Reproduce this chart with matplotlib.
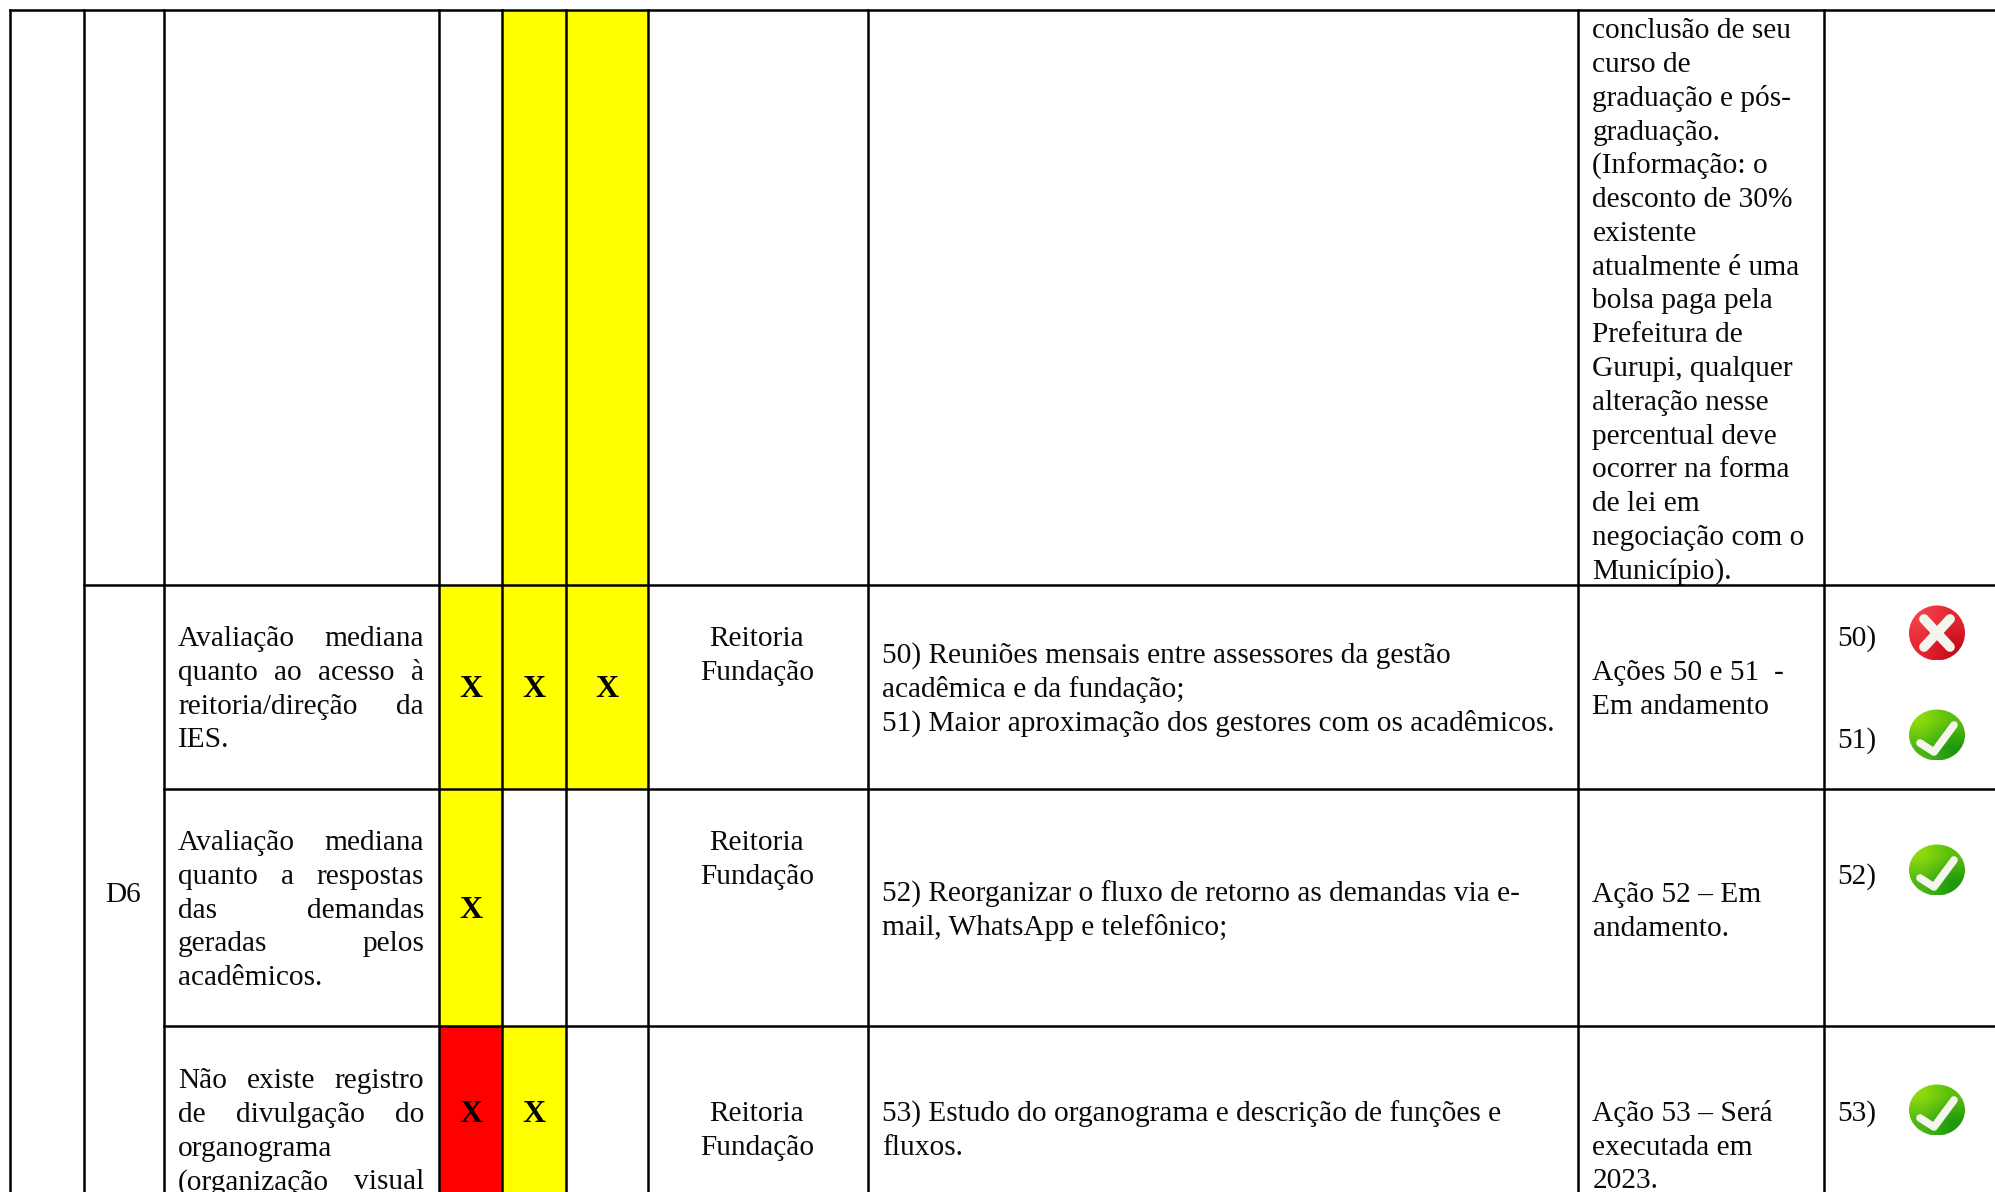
import numpy as np
import matplotlib
matplotlib.use('Agg')
import matplotlib.pyplot as plt
from matplotlib.patches import Ellipse, Rectangle

plt.rcParams['font.family'] = ['Liberation Serif', 'DejaVu Serif']

W, H = 1995, 1192
FS = 21.2
FS_X = 23
LINE = 33.75
LW = 1.8
INK = '#0a0a0a'

# table geometry in image pixels
col_edges = [9.5, 84, 164, 439, 502, 566, 648, 868, 1578, 1824]
row_edges = [10, 585, 789, 1026, 1192]

# fills: (row, col, colour)
fills = [(0, 4, '#ffff00'), (0, 5, '#ffff00'),
         (1, 3, '#ffff00'), (1, 4, '#ffff00'), (1, 5, '#ffff00'),
         (2, 3, '#ffff00'),
         (3, 3, '#ff0000'), (3, 4, '#ffff00')]

# X marks: (col, baseline)
x_marks = [(3, 697), (4, 697), (5, 697), (3, 918), (3, 1122), (4, 1122)]

top_note = ['conclusão de seu', 'curso de', 'graduação e pós-', 'graduação.',
            '(Informação: o', 'desconto de 30%', 'existente', 'atualmente é uma',
            'bolsa paga pela', 'Prefeitura de', 'Gurupi, qualquer', 'alteração nesse',
            'percentual deve', 'ocorrer na forma', 'de lei em', 'negociação com o',
            'Município).']

# justified problem text: (first baseline, lines)
problems = [
    (646, ['Avaliação mediana', 'quanto ao acesso à', 'reitoria/direção da', 'IES.']),
    (850, ['Avaliação mediana', 'quanto a respostas', 'das demandas', 'geradas pelos', 'acadêmicos.']),
    (1088, ['Não existe registro', 'de divulgação do', 'organograma', '(organização visual']),
]
responsible_y = [646, 850, 1121]
responsible = ['Reitoria', 'Fundação']

actions = [
    (663, ['50) Reuniões mensais entre assessores da gestão',
           'acadêmica e da fundação;',
           '51) Maior aproximação dos gestores com os acadêmicos.']),
    (901.5, ['52) Reorganizar o fluxo de retorno as demandas via e-',
             'mail, WhatsApp e telefônico;']),
    (1121.5, ['53) Estudo do organograma e descrição de funções e', 'fluxos.']),
]
status = [
    (680.5, ['Ações 50 e 51  -', 'Em andamento']),
    (902, ['Ação 52 – Em', 'andamento.']),
    (1121, ['Ação 53 – Será', 'executada em', '2023.']),
]
# status icons: (label, label baseline, icon centre y, done)
icons = [('50)', 646, 633, False), ('51)', 748, 735, True),
         ('52)', 884, 870, True), ('53)', 1121, 1110, True)]
ICON_X = 1937


def put_lines(ax, x, first, lines, ha='left'):
    for i, line in enumerate(lines):
        ax.text(x, first + i * LINE, line, fontsize=FS, ha=ha, va='baseline',
                color=INK, clip_on=True)


def put_justified(ax, fig, x0, x1, first, lines):
    rend = fig.canvas.get_renderer()
    for i, line in enumerate(lines):
        y = first + i * LINE
        words = line.split(' ')
        # last line of a paragraph or single word stays flush left
        if len(words) == 1 or line.endswith('IES.'):
            ax.text(x0, y, line, fontsize=FS, va='baseline', color=INK, clip_on=True)
            continue
        items = [ax.text(x0, y, w, fontsize=FS, va='baseline', color=INK, clip_on=True)
                 for w in words]
        widths = [t.get_window_extent(rend).width for t in items]
        gap = (x1 - x0 - sum(widths)) / (len(words) - 1)
        x = x0
        for t, w in zip(items, widths):
            t.set_x(x)
            x += w + gap


def draw_icon(ax, cx, cy, done):
    if done:
        ry = 25.5
        colors = np.array([[[0.55, 0.85, 0.05], [0.35, 0.75, 0.05]],
                           [[0.30, 0.72, 0.08], [0.12, 0.60, 0.05]]])
    else:
        ry = 27.5
        colors = np.array([[[0.95, 0.25, 0.28], [0.90, 0.15, 0.20]],
                           [[0.90, 0.15, 0.20], [0.78, 0.05, 0.10]]])
    im = ax.imshow(colors, extent=(cx - 28, cx + 28, cy + ry, cy - ry),
                   interpolation='bilinear', aspect='auto', zorder=3)
    clip = Ellipse((cx, cy), 56, 2 * ry, transform=ax.transData, fc='none', ec='none')
    ax.add_patch(clip)
    im.set_clip_path(clip)
    mark = '#f4f6ee'
    if done:
        ax.plot([cx - 17, cx - 3, cx + 17], [cy + 8, cy + 17, cy - 10], color=mark,
                lw=5.5, solid_capstyle='round', solid_joinstyle='round', zorder=4)
    else:
        ax.plot([cx - 13, cx + 13], [cy - 14, cy + 14], color=mark, lw=7,
                solid_capstyle='round', zorder=4)
        ax.plot([cx - 13, cx + 13], [cy + 14, cy - 14], color=mark, lw=7,
                solid_capstyle='round', zorder=4)


fig = plt.figure(figsize=(W / 100, H / 100), dpi=100)
ax = fig.add_axes([0, 0, 1, 1])
ax.axis('off')

for r, c, colour in fills:
    ax.add_patch(Rectangle((col_edges[c], row_edges[r]),
                           col_edges[c + 1] - col_edges[c],
                           row_edges[r + 1] - row_edges[r],
                           fc=colour, ec='none', zorder=0))

# grid
ax.plot([col_edges[0], W], [row_edges[0]] * 2, color='k', lw=LW, zorder=2)
ax.plot([col_edges[1], W], [row_edges[1]] * 2, color='k', lw=LW, zorder=2)
for y in row_edges[2:4]:
    ax.plot([col_edges[2], W], [y, y], color='k', lw=LW, zorder=2)
for x in col_edges:
    ax.plot([x, x], [row_edges[0], H], color='k', lw=LW, zorder=2)

ax.set_xlim(0, W)
ax.set_ylim(H, 0)
fig.canvas.draw()

put_lines(ax, 1592.5, 38.5, top_note)
ax.text(123, 902, 'D6', fontsize=FS, ha='center', va='baseline', color=INK)

for first, lines in problems:
    put_justified(ax, fig, 178, 424, first, lines)
for y in responsible_y:
    put_lines(ax, 757, y, responsible, ha='center')
for first, lines in actions:
    put_lines(ax, 882, first, lines)
for first, lines in status:
    put_lines(ax, 1592.5, first, lines)

for c, y in x_marks:
    ax.text((col_edges[c] + col_edges[c + 1]) / 2, y, 'X', fontsize=FS_X, weight='bold',
            ha='center', va='baseline', color='k')

for label, y, cy, done in icons:
    ax.text(1837, y, label, fontsize=FS, va='baseline', color=INK)
    draw_icon(ax, ICON_X, cy, done)

ax.set_xlim(0, W)
ax.set_ylim(H, 0)
fig.savefig('out.png', dpi=100)
